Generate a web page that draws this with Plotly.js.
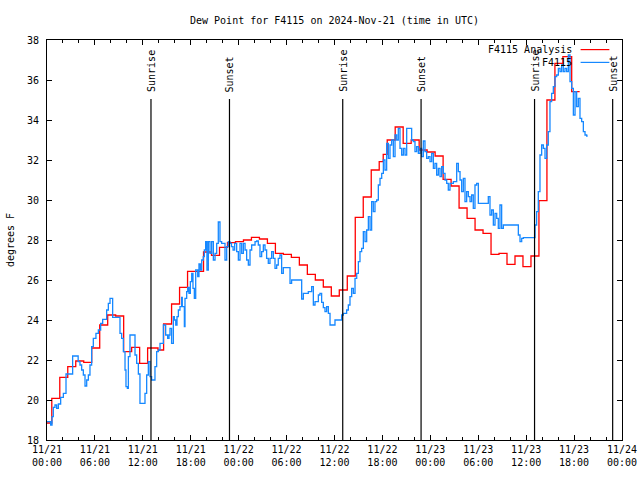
<!DOCTYPE html>
<html>
<head>
<meta charset="utf-8">
<script src="https://cdn.plot.ly/plotly-3.0.1.min.js"></script>
<style>html,body{margin:0;padding:0;background:#fff}#chart{width:640px;height:480px}</style>
</head>
<body>
<div id="chart"></div>
<script>
// Hours since 2024-11-21 00:00 UTC
const seriesNames = ['F4115 Analysis', 'F4115'];
const seriesColors = ['#ff0000', '#1688ff'];

const redHours = [0,0.6,1.6,2.6,3.6,4.6,5.6,6.6,7.6,8.6,9.6,10.6,11.6,12.6,13.9,14.6,15.6,16.6,17.6,18.6,19.6,20.6,21.6,22.6,23.6,24.6,25.6,26.6,27.6,28.6,29.6,30.6,31.6,32.6,33.6,34.6,35.6,36.6,37.6,38.6,39.6,40.6,41.6,42.1,42.6,43.6,44.6,45.6,46.6,47.6,48.6,49.6,50.6,51.6,52.6,53.6,54.6,55.6,56.6,57.6,58.6,59.6,60.6,61.6,62.6,63.6,64.6,65.7,66.7];
const redDew = [18.85,20.08,21.13,21.67,21.95,21.88,22.6,23.75,24.25,24.2,22.42,22.63,21.83,22.6,22.5,23.8,24.8,25.63,26.43,26.43,27.4,27.23,27.63,27.87,27.92,28.0,28.13,28.05,27.83,27.33,27.28,27.13,26.75,26.28,26.0,25.65,25.2,25.5,26.2,29.13,30.15,31.5,31.92,32.28,33.0,33.65,32.83,33.0,32.5,32.4,32.2,31.03,30.7,29.6,29.08,28.5,28.33,27.28,27.33,26.78,27.2,26.67,27.2,29.97,35.0,36.83,37.17,35.42,35.42];

const obsHours = [
0,0.46,0.63,0.79,1.0,1.21,1.42,1.71,2.05,2.38,3.21,3.9,4.13,4.34,4.55,4.76,4.97,5.18,5.38,5.59,5.8,6.13,6.43,6.72,6.97,7.47,7.68,7.89,8.22,9.14,9.35,9.56,9.77,9.89,10.06,10.19,10.39,11.02,11.23,11.44,11.64,12.27,12.48,12.69,12.9,13.1,13.52,13.73,13.95,
14.15,14.57,14.86,15.11,15.28,15.4,15.6,15.82,15.95,16.12,16.28,16.45,16.65,16.86,16.94,17.2,17.28,17.49,17.62,17.78,17.95,18.12,18.28,18.45,18.62,18.87,19.03,19.2,19.37,19.57,19.7,19.87,20.03,20.2,20.41,20.62,20.83,21.04,21.25,21.45,21.66,21.87,22.29,22.5,22.7,22.9,23.1,23.3,23.5,23.75,23.96,24.17,24.38,24.59,24.8,25.0,25.21,25.42,25.63,
25.84,26.05,26.25,26.46,26.67,26.88,27.09,27.3,27.5,27.71,27.92,28.13,28.34,28.55,28.76,28.96,29.17,29.38,29.59,30.43,30.63,31.89,32.1,32.72,33.14,33.35,33.56,33.98,34.18,34.39,34.6,34.81,35.02,35.23,35.44,36.06,36.9,37.11,37.52,37.73,37.94,
38.15,38.36,38.57,38.78,38.99,39.19,39.4,39.61,39.82,40.03,40.24,40.45,40.65,40.86,41.07,41.28,41.49,41.7,41.91,42.12,42.32,42.53,42.74,42.95,43.16,43.37,43.58,43.79,43.99,44.2,44.41,44.62,44.83,45.04,45.66,45.87,46.08,46.29,46.5,46.71,46.91,47.12,47.33,47.54,47.75,47.96,48.17,48.38,48.58,48.79,49.0,49.21,49.42,49.63,49.84,50.05,50.25,50.46,
50.88,51.3,51.51,51.72,51.92,52.13,52.34,52.55,52.76,52.97,53.17,53.38,53.59,53.8,54.01,55.26,55.47,55.68,55.89,56.1,56.31,56.51,56.72,56.93,57.14,59.02,59.23,59.44,59.65,61.11,61.31,61.52,61.73,61.94,62.15,62.36,62.57,62.77,62.98,63.19,63.4,63.61,63.82,64.03,64.24,64.44,64.65,64.86,65.07,65.28,65.49,65.7,65.91,66.12,66.32,66.53,66.74,66.95,67.16,67.37,67.58,67.7];
const obsDew = [
18.92,18.75,19.17,19.63,19.75,19.58,19.8,20.13,20.33,21.3,22.2,21.92,21.75,21.5,21.25,20.7,21.0,21.25,21.75,22.67,23.08,23.33,23.5,23.83,24.03,24.5,24.83,25.08,24.13,23.33,23.08,22.42,21.5,20.67,20.58,22.17,23.25,22.25,21.83,21.3,19.83,20.33,21.25,21.92,21.17,21.0,21.67,22.42,22.5,
22.83,23.75,23.25,23.08,23.25,23.58,22.83,24.17,24.0,23.75,24.17,24.5,24.67,25.13,24.67,23.67,25.08,25.42,25.63,25.33,25.92,26.33,25.58,25.08,26.5,26.17,26.8,26.5,27.0,27.17,27.5,27.92,26.5,27.92,27.33,27.92,27.0,27.33,27.83,28.9,27.92,27.83,27.0,27.67,27.92,27.83,27.67,27.5,27.83,27.42,27.0,27.83,27.33,27.83,27.5,27.0,26.75,27.5,27.75,
27.75,27.92,27.95,27.75,27.17,27.42,27.75,27.5,27.08,26.83,27.08,27.42,27.08,26.58,26.75,27.08,27.25,26.33,26.62,25.83,26.0,25.05,25.33,25.42,25.67,24.75,24.92,25.25,25.33,24.88,24.62,24.42,24.67,24.33,23.75,24.0,24.25,24.33,24.5,24.75,25.17,
25.58,25.33,26.08,26.33,26.92,27.42,27.58,28.42,27.92,28.5,29.17,28.5,29.92,29.42,29.92,30.0,30.75,31.08,31.33,32.0,31.5,32.83,32.08,32.75,33.0,32.17,33.25,33.0,33.58,32.58,32.25,32.58,32.25,33.58,33.0,32.92,32.42,32.67,32.33,32.58,32.17,32.95,32.42,32.08,32.17,31.92,32.33,31.58,31.83,31.25,31.58,31.17,31.67,31.33,31.0,30.83,30.5,30.83,
30.92,31.83,31.42,31.0,30.42,31.08,29.92,30.42,30.17,29.92,30.25,29.58,30.75,30.83,29.83,30.17,29.25,29.5,28.75,29.33,29.08,28.58,29.75,28.58,28.75,28.25,27.92,28.08,28.12,28.75,29.42,30.42,32.25,32.75,32.58,32.08,32.75,33.42,34.92,35.33,35.67,36.17,36.25,36.58,36.42,36.75,36.42,36.58,36.42,37.25,35.92,35.58,34.25,35.42,34.67,35.08,34.08,33.92,33.42,33.25,33.2,33.2];

const sunriseHours = [13.02, 37.03, 61.05];
const sunsetHours = [22.85, 46.84, 70.83];
const sunLineTop = 35.05;
const sunLabelBase = 35.3;

const tickHours = [0,6,12,18,24,30,36,42,48,54,60,66,72];
const tickLabels = ['11/21<br>00:00','11/21<br>06:00','11/21<br>12:00','11/21<br>18:00','11/22<br>00:00','11/22<br>06:00','11/22<br>12:00','11/22<br>18:00','11/23<br>00:00','11/23<br>06:00','11/23<br>12:00','11/23<br>18:00','11/24<br>00:00'];

const FONT = 'DejaVu Sans Mono, Liberation Mono, monospace';

// vertical event lines built from the event times
const evX = [], evY = [];
sunriseHours.concat(sunsetHours).forEach(t => { evX.push(t, t, null); evY.push(18, sunLineTop, null); });

const traces = [
  {x: redHours, y: redDew, type: 'scatter', mode: 'lines', line: {shape: 'hv', color: seriesColors[0], width: 1.3}, name: seriesNames[0], hoverinfo: 'skip'},
  {x: obsHours, y: obsDew, type: 'scatter', mode: 'lines', line: {shape: 'hv', color: seriesColors[1], width: 1.3}, name: seriesNames[1], hoverinfo: 'skip'},
  {x: evX, y: evY, type: 'scatter', mode: 'lines', line: {color: '#000', width: 1.2}, hoverinfo: 'skip', showlegend: false}
];

const annotations = [];
sunriseHours.forEach(t => annotations.push({x: t, y: sunLabelBase, xref: 'x', yref: 'y', text: 'Sunrise', textangle: -90, showarrow: false, xanchor: 'center', yanchor: 'bottom', font: {family: FONT, size: 10, color: '#000'}}));
sunsetHours.forEach(t => annotations.push({x: t, y: sunLabelBase, xref: 'x', yref: 'y', text: 'Sunset', textangle: -90, showarrow: false, xanchor: 'center', yanchor: 'bottom', font: {family: FONT, size: 10, color: '#000'}}));

// gnuplot-style key: text right-aligned, sample line to the right
const keyRows = [0.976, 0.944];
const shapes = [];
seriesNames.forEach((n, i) => {
  annotations.push({x: 0.917, y: keyRows[i], xref: 'paper', yref: 'paper', text: n, showarrow: false, xanchor: 'right', yanchor: 'middle', font: {family: FONT, size: 10, color: '#000'}});
  shapes.push({type: 'line', xref: 'paper', yref: 'paper', x0: 0.928, x1: 0.978, y0: keyRows[i], y1: keyRows[i], line: {color: seriesColors[i], width: 1.2}});
});

const layout = {
  width: 640, height: 480,
  margin: {l: 47, r: 18, t: 40, b: 40},
  paper_bgcolor: '#fff', plot_bgcolor: '#fff',
  showlegend: false,
  font: {family: FONT, size: 10, color: '#000'},
  title: {text: 'Dew Point for F4115 on 2024-Nov-21 (time in UTC)', font: {family: FONT, size: 10, color: '#000'}, x: 0.5, xref: 'paper', y: 0.958, yref: 'container', yanchor: 'middle'},
  xaxis: {
    range: [0, 72], tickmode: 'array', tickvals: tickHours, ticktext: tickLabels,
    ticks: 'inside', ticklen: 5, tickcolor: '#000', tickwidth: 1,
    showline: true, linecolor: '#000', linewidth: 1, mirror: 'ticks',
    showgrid: false, zeroline: false, tickangle: 0,
    minor: {tickmode: 'linear', tick0: 0, dtick: 2, ticks: 'inside', ticklen: 3, tickcolor: '#000', tickwidth: 1, showgrid: false},
    tickfont: {family: FONT, size: 10, color: '#000'}
  },
  yaxis: {
    range: [18, 38], tickmode: 'linear', tick0: 18, dtick: 2,
    ticks: 'inside', ticklen: 5, tickcolor: '#000', tickwidth: 1,
    showline: true, linecolor: '#000', linewidth: 1, mirror: 'ticks',
    showgrid: false, zeroline: false, ticklabelstandoff: 5,
    tickfont: {family: FONT, size: 10, color: '#000'},
    title: {text: 'degrees F', font: {family: FONT, size: 10, color: '#000'}, standoff: 10}
  },
  annotations: annotations,
  shapes: shapes
};

Plotly.newPlot('chart', traces, layout, {staticPlot: true, displayModeBar: false});
</script>
</body>
</html>
